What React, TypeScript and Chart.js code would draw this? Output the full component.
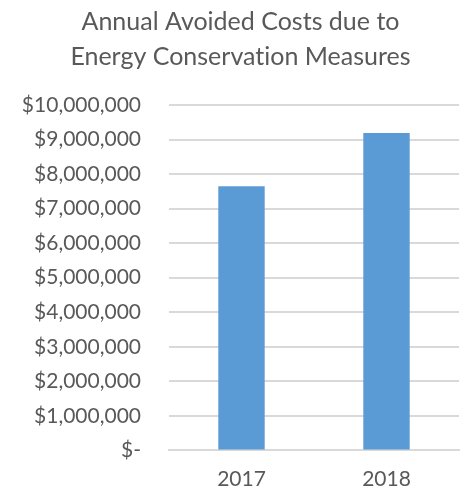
import React, { useEffect, useRef } from "react";
import { Chart, registerables } from "chart.js";

Chart.register(...registerables);

const categories = ["2017", "2018"];
const avoidedCosts = [7650000, 9190000];
const titleLines = ["Annual Avoided Costs due to", "Energy Conservat\u200Cion Measures"];

function fmt(v: number): string {
  if (v === 0) return "$-";
  return "$" + v.toLocaleString("en-US");
}

export default function App() {
  const ref = useRef<HTMLCanvasElement | null>(null);
  useEffect(() => {
    if (!ref.current) return;
    const chart = new Chart(ref.current, {
      type: "bar",
      data: {
        labels: categories,
        datasets: [
          {
            data: avoidedCosts,
            backgroundColor: "#5b9bd5",
            borderColor: "#5b9bd5",
            categoryPercentage: 1,
            barPercentage: 0.32,
          },
        ],
      },
      options: {
        animation: false,
        responsive: false,
        maintainAspectRatio: false,
        layout: { padding: { left: 22, right: 4, top: 4, bottom: 0 } },
        plugins: {
          legend: { display: false },
          tooltip: { enabled: false },
          title: {
            display: true,
            text: titleLines,
            color: "#595959",
            font: { family: "Lato", size: 25, weight: "normal", lineHeight: 1.4 },
            padding: { top: 0, bottom: 31 },
          },
        },
        scales: {
          x: {
            grid: { display: false, drawTicks: false },
            border: { display: true, color: "#d9d9d9", width: 2 },
            ticks: {
              color: "#595959",
              font: { family: "Lato", size: 21 },
              padding: 16,
            },
            afterFit: (s: any) => {
              s.height = 38;
            },
          },
          y: {
            min: 0,
            max: 10000000,
            border: { display: false },
            grid: { color: "#d9d9d9", lineWidth: 2, drawTicks: false },
            ticks: {
              stepSize: 1000000,
              color: "#595959",
              font: { family: "Lato", size: 21 },
              padding: 28,
              callback: (v: any) => fmt(Number(v)),
            },
            afterFit: (s: any) => {
              s.width = 147;
            },
          },
        },
      },
    });
    return () => chart.destroy();
  }, []);
  return (
    <div style={{ position: "fixed", left: 0, top: 0, width: 463, height: 491, background: "#fff" }}>
      <canvas ref={ref} width={463} height={491} style={{ width: 463, height: 491 }} />
    </div>
  );
}
